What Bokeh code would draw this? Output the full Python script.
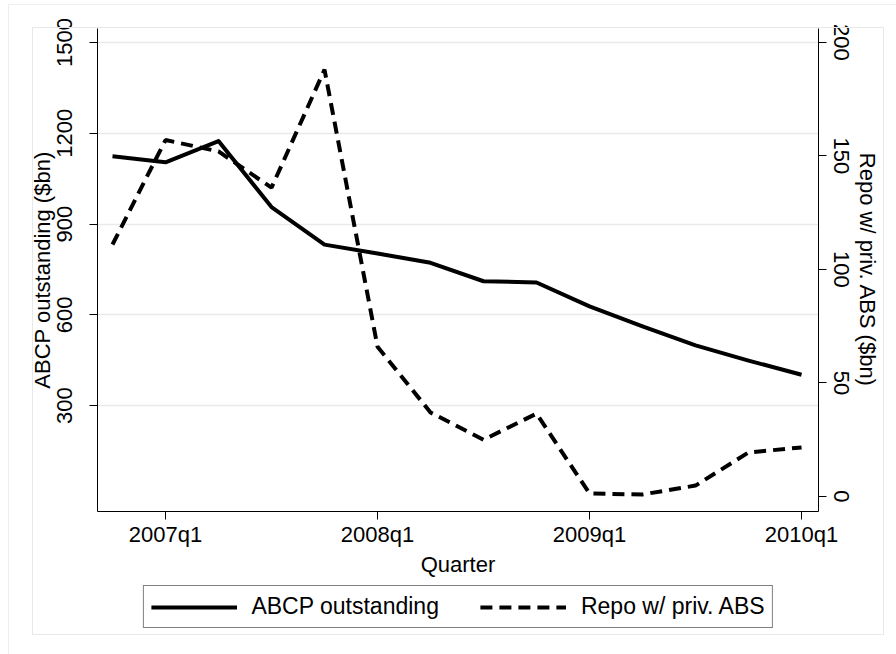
from bokeh.plotting import figure
from bokeh.layouts import column
from bokeh.models import (Range1d, LinearAxis, FixedTicker, Legend, LegendItem,
                          InlineStyleSheet)
from bokeh.embed import file_html
from bokeh.resources import INLINE

# ---- data ----
quarters = ["2006q4", "2007q1", "2007q2", "2007q3", "2007q4",
            "2008q1", "2008q2", "2008q3", "2008q4",
            "2009q1", "2009q2", "2009q3", "2009q4", "2010q1"]
abcp = [1124, 1104, 1174, 956, 832, 803, 772, 711, 707, 628, 562, 499, 449, 402]
repo = [111, 157, 152, 136, 188, 66, 37, 25, 36.5, 1.3, 0.9, 4.8, 19.4, 21.6]
x_tick_labels = ["2007q1", "2008q1", "2009q1", "2010q1"]
left_ticks = [300, 600, 900, 1200, 1500]
right_ticks = [0, 50, 100, 150, 200]
series_names = ["ABCP outstanding", "Repo w/ priv. ABS"]

xi = list(range(len(quarters)))
x_tick_pos = [quarters.index(q) for q in x_tick_labels]

FONT = "Liberation Sans"
FS = "22px"
LFS = "23px"

css = """
:host { position: relative; }
:host::after {
  content: ""; position: absolute; left: 32px; top: 27px;
  width: 850px; height: 606px; border: 1px solid #e8e8e8;
  pointer-events: none; box-sizing: content-box;
}
:host::before {
  content: ""; position: absolute; left: 8px; top: 4px;
  width: 1000px; height: 1000px; border: 1px solid #eeeeee;
  pointer-events: none; z-index: 1;
}
"""

SOLID = dict(line_color="black", line_width=4, line_join="round")
DASHED = dict(line_color="black", line_width=4, line_dash="12 7", line_cap="butt")

# ---------------- main chart ----------------
p = figure(width=896, height=579, output_backend="svg", toolbar_location=None,
           x_range=Range1d(-0.283, 13.32), y_range=Range1d(-49.6, 1546),
           min_border_left=97, min_border_right=78, min_border_top=28,
           min_border_bottom=68)
p.background_fill_color = "white"
p.border_fill_color = "white"
p.outline_line_color = None

p.extra_y_ranges = {"right": Range1d(-49.6 * 200 / 1500, 1546 * 200 / 1500)}

p.line(xi, abcp, **SOLID)
p.line(xi, repo, y_range_name="right", **DASHED)

def style_axis(ax):
    ax.axis_line_color = "black"
    ax.axis_line_width = 1
    ax.major_tick_line_color = "black"
    ax.major_tick_out = 8
    ax.major_tick_in = 0
    ax.minor_tick_line_color = None
    ax.major_label_text_font = FONT
    ax.major_label_text_font_size = FS
    ax.major_label_text_color = "black"
    ax.axis_label_text_font = FONT
    ax.axis_label_text_font_size = FS
    ax.axis_label_text_font_style = "normal"
    ax.axis_label_text_color = "black"

xa = p.xaxis[0]
style_axis(xa)
xa.ticker = FixedTicker(ticks=x_tick_pos)
xa.major_label_overrides = {pos: lab for pos, lab in zip(x_tick_pos, x_tick_labels)}
xa.axis_label = "Quarter"
xa.major_label_standoff = 2
xa.axis_label_standoff = 2

ya = p.yaxis[0]
style_axis(ya)
ya.ticker = FixedTicker(ticks=left_ticks)
ya.axis_label = "ABCP outstanding ($bn)"
ya.major_label_orientation = "vertical"
ya.major_label_standoff = 17
ya.axis_label_standoff = 0

ra = LinearAxis(y_range_name="right", axis_label="Repo w/ priv. ABS ($bn)")
style_axis(ra)
ra.ticker = FixedTicker(ticks=right_ticks)
ra.major_label_orientation = "vertical"
ra.major_label_standoff = 7
ra.axis_label_standoff = 3
p.add_layout(ra, "right")

p.xgrid.visible = False
p.ygrid.ticker = FixedTicker(ticks=left_ticks)
p.ygrid.grid_line_color = "#eaeaea"
p.ygrid.grid_line_width = 1.5

# ---------------- legend strip ----------------
# the series are drawn here too, but far outside the visible ranges,
# so that the legend has live glyphs to sample
lg = figure(width=896, height=75, output_backend="svg", toolbar_location=None,
            x_range=Range1d(-1000, -999), y_range=Range1d(-10000, -9999),
            x_axis_location=None, y_axis_location=None,
            min_border_left=30, min_border_right=0, min_border_top=0,
            min_border_bottom=0)
lg.grid.visible = False
lg.outline_line_color = None
lg.background_fill_color = "white"
lg.border_fill_color = "white"
k1 = lg.line(xi, abcp, **SOLID)
k2 = lg.line(xi, repo, **DASHED)

legend = Legend(items=[LegendItem(label=series_names[0], renderers=[k1]),
                       LegendItem(label=series_names[1], renderers=[k2])],
                orientation="horizontal", location="top",
                border_line_color="black", border_line_width=1,
                padding=7, spacing=41, glyph_width=86, glyph_height=22,
                label_height=22, label_standoff=15,
                label_text_font=FONT, label_text_font_size=LFS,
                label_text_color="black", margin=6)
lg.add_layout(legend)

layout = column(p, lg, spacing=0)
layout.stylesheets = [InlineStyleSheet(css=css)]

open("out.html", "w").write(file_html(layout, INLINE))
